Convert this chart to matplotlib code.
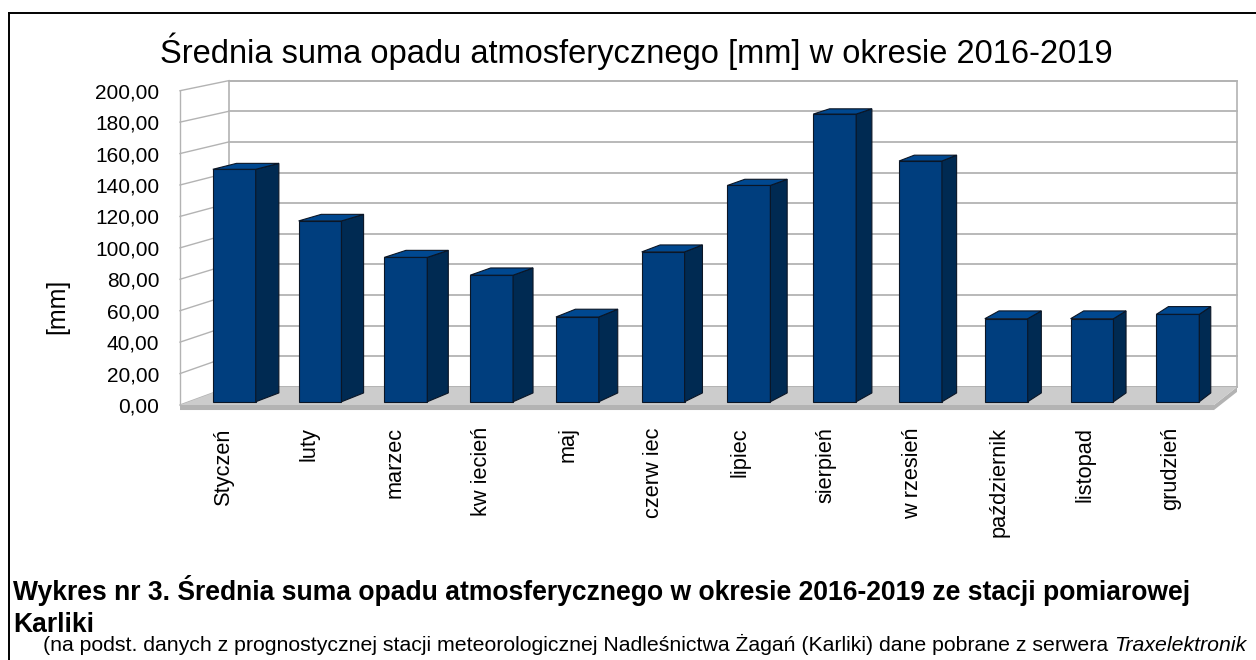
import numpy as np
import matplotlib.pyplot as plt
from matplotlib.patches import Polygon

plt.rcParams['font.family'] = ['Liberation Sans', 'DejaVu Sans']

# dane
miesiace = ['Styczeń', 'luty', 'marzec', 'kw iecień', 'maj', 'czerw iec',
            'lipiec', 'sierpień', 'w rzesień', 'październik', 'listopad', 'grudzień']
opad = [148.6, 115.6, 92.3, 80.9, 54.2, 95.8, 138.3, 183.9, 153.9, 53.1, 53.1, 55.9]
yticks = np.arange(0, 201, 20)

tytul = 'Średnia suma opadu atmosferycznego [mm] w okresie 2016-2019'
podpis1 = 'Wykres nr 3. Średnia suma opadu atmosferycznego w okresie 2016-2019 ze stacji pomiarowej'
podpis2 = 'Karliki'
podpis3 = ('(na podst. danych z prognostycznej stacji meteorologicznej '
           'Nadleśnictwa Żagań (Karliki) dane pobrane z serwera ')
podpis3_it = 'Traxelektronik'

# pseudo-3D: punkt zbiegu w jednostkach danych
VX, VY = 22.63, 455.6
GLEB = 0.0251


def proj(x, v, z):
    k = z * GLEB
    return x + k * (VX - x), v + k * (VY - v)


W, H = 1256, 660
fig = plt.figure(figsize=(W / 100, H / 100), dpi=100)
ax = fig.add_axes([180 / W, 1 - 405 / H, 1034 / W, (405 - 90.7) / H])
ax.set_xlim(0, 12)
ax.set_ylim(0, 200)
ax.set_facecolor('none')
for s in ax.spines.values():
    s.set_visible(False)

n = len(opad)
grid_c = '#b3b3b3'

# tylna sciana
pts = [proj(0, 0, 1), proj(n, 0, 1), proj(n, 200, 1), proj(0, 200, 1)]
ax.add_patch(Polygon(pts, closed=True, facecolor='white', edgecolor=grid_c,
                     lw=1.2, clip_on=False, zorder=1))
for t in yticks:
    (xa, ya), (xb, yb) = proj(0, t, 1), proj(n, t, 1)
    ax.plot([xa, xb], [ya, yb], color=grid_c, lw=1.3, clip_on=False, zorder=2)
    (xa, ya), (xb, yb) = proj(0, t, 0), proj(0, t, 1)
    ax.plot([xa, xb], [ya, yb], color=grid_c, lw=1.0, clip_on=False, zorder=2)
ax.plot([0, 0], [0, 200], color=grid_c, lw=1.0, clip_on=False, zorder=2)

# podloga
grub = 3.2
pts = [proj(0, 0, 0), proj(n, 0, 0), proj(n, 0, 1), proj(0, 0, 1)]
ax.add_patch(Polygon(pts, closed=True, facecolor='#cccccc', edgecolor='none',
                     clip_on=False, zorder=3))
pts = [proj(0, 0, 0), proj(n, 0, 0), proj(n, 0, 1), proj(n, -grub, 1),
       proj(n, -grub, 0), proj(0, -grub, 0)]
ax.add_patch(Polygon(pts, closed=True, facecolor='#b3b3b3', edgecolor='none',
                     clip_on=False, zorder=2.9))

# slupki
front_c, side_c, top_c, edge_c = '#003e7e', '#002a52', '#004890', '#0b1626'
z0, z1 = 0.18, 0.67
for i, v in enumerate(opad):
    x0, x1 = i + 0.28, i + 0.78
    fx0, fy0 = proj(x0, 0, z0)
    fx1, fy1 = proj(x1, v, z0)
    ax.bar(fx0, fy1 - fy0, bottom=fy0, width=fx1 - fx0, align='edge',
           color=front_c, edgecolor=edge_c, lw=0.8, zorder=5, clip_on=False)
    side = [proj(x1, 0, z0), proj(x1, 0, z1), proj(x1, v, z1), proj(x1, v, z0)]
    ax.add_patch(Polygon(side, closed=True, facecolor=side_c, edgecolor=edge_c,
                         lw=0.8, zorder=5, clip_on=False))
    top = [proj(x0, v, z0), proj(x1, v, z0), proj(x1, v, z1), proj(x0, v, z1)]
    ax.add_patch(Polygon(top, closed=True, facecolor=top_c, edgecolor=edge_c,
                         lw=0.8, zorder=5, clip_on=False))

ax.set_yticks(yticks, [f'{t:.2f}'.replace('.', ',') for t in yticks])
ax.set_xticks(np.arange(n) + 0.5, miesiace, rotation=90)
ax.tick_params(axis='both', length=0, labelsize=15)
ax.tick_params(axis='x', pad=16, labelsize=15.7)
ax.tick_params(axis='y', pad=14.9)

fig.text(57.5 / W, 1 - 306 / H, '[mm]', rotation=90, ha='center', va='center',
         fontsize=18)
fig.text(636.5 / W, 1 - 63.3 / H, tytul, ha='center', va='baseline', fontsize=23.5)

# ramka
fig.add_artist(plt.Line2D([9 / W, 1], [1 - 12.7 / H, 1 - 12.7 / H], color='black', lw=1.4))
fig.add_artist(plt.Line2D([9 / W, 9 / W], [0, 1 - 12.7 / H], color='black', lw=1.4))

# podpis
fig.text(13 / W, 1 - 600 / H, podpis1, ha='left', va='baseline', fontsize=19.1,
         fontweight='bold')
fig.text(13 / W, 1 - 631.7 / H, podpis2, ha='left', va='baseline', fontsize=19.1,
         fontweight='bold')
t3 = fig.text(43 / W, 1 - 650.7 / H, podpis3, ha='left', va='baseline', fontsize=15.35)
r = fig.canvas.get_renderer()
bb = t3.get_window_extent(renderer=r)
fig.text(bb.x1 / W, 1 - 650.7 / H, podpis3_it, ha='left', va='baseline',
         fontsize=15.35, style='italic')

fig.savefig('out.png', dpi=100)
